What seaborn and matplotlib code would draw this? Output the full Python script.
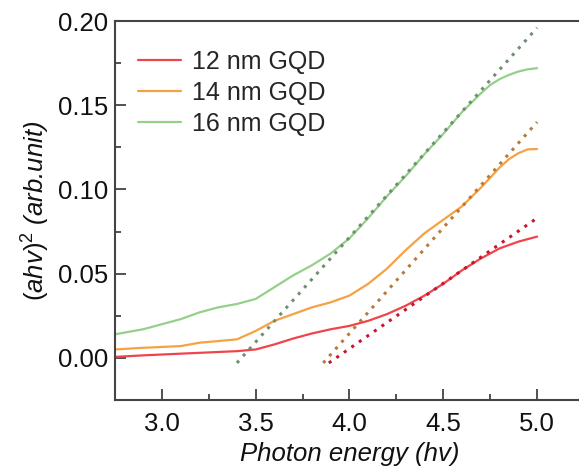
"""
Tauc plot of GQD samples: (ahv)^2 against photon energy with linear fits
"""
import pandas as pd
import seaborn as sns
import matplotlib.pyplot as plt

sns.set_style('ticks')
plt.rcParams['font.family'] = ['Liberation Sans', 'DejaVu Sans']
plt.rcParams['mathtext.fontset'] = 'custom'
plt.rcParams['mathtext.it'] = 'Liberation Sans:italic'
plt.rcParams['mathtext.rm'] = 'Liberation Sans'

# absorption curves
energy = [2.75, 2.9, 3.0, 3.1, 3.2, 3.3, 3.4, 3.5, 3.6, 3.7, 3.8, 3.9, 4.0,
          4.1, 4.2, 4.3, 4.4, 4.5, 4.6, 4.7, 4.75, 4.8, 4.85, 4.9, 4.95, 5.0]
gqd12 = [0.0006, 0.0015, 0.002, 0.0025, 0.003, 0.0035, 0.004, 0.005, 0.008,
         0.0115, 0.0145, 0.017, 0.019, 0.022, 0.026, 0.031, 0.037, 0.044,
         0.052, 0.059, 0.062, 0.065, 0.067, 0.069, 0.0705, 0.072]
gqd14 = [0.005, 0.006, 0.0065, 0.007, 0.009, 0.010, 0.011, 0.016, 0.022,
         0.026, 0.030, 0.033, 0.037, 0.044, 0.053, 0.064, 0.074, 0.082,
         0.090, 0.101, 0.107, 0.113, 0.118, 0.1215, 0.1238, 0.124]
gqd16 = [0.014, 0.017, 0.020, 0.023, 0.027, 0.030, 0.032, 0.035, 0.042,
         0.049, 0.055, 0.062, 0.071, 0.083, 0.096, 0.108, 0.121, 0.133,
         0.146, 0.157, 0.162, 0.1655, 0.168, 0.170, 0.1713, 0.172]

# linear fit segments (start / end)
fit12_x = [3.89, 5.0]
fit12_y = [-0.003, 0.083]
fit14_x = [3.86, 5.0]
fit14_y = [-0.003, 0.140]
fit16_x = [3.40, 5.0]
fit16_y = [-0.003, 0.196]

labels = ['12 nm GQD', '14 nm GQD', '16 nm GQD']
line_colors = ['#f0444c', '#f6a242', '#95d08a']
fit_colors = ['#c8142e', '#b87a3c', '#6f8f6f']

fig = plt.figure(figsize=(5.79, 4.68), dpi=100)
ax = fig.add_axes([0.1986, 0.1453, 0.81, 0.8098])

curves = [gqd12, gqd14, gqd16]
fits = [(fit12_x, fit12_y), (fit14_x, fit14_y), (fit16_x, fit16_y)]
for y, lab, c in zip(curves, labels, line_colors):
    sns.lineplot(x=energy, y=y, ax=ax, color=c, lw=1.6, label=lab)
for (fx, fy), c in zip(fits, fit_colors):
    sns.lineplot(x=fx, y=fy, ax=ax, color=c, lw=2.2, linestyle=(0, (1.0, 2.0)))

ax.set_xlim(2.75, 5.25)
ax.set_ylim(-0.025, 0.20)
ax.set_xticks([3.0, 3.5, 4.0, 4.5, 5.0])
ax.set_xticks([2.75, 3.25, 3.75, 4.25, 4.75, 5.25], minor=True)
ax.set_yticks([0.00, 0.05, 0.10, 0.15, 0.20])
ax.set_yticks([-0.025, 0.025, 0.075, 0.125, 0.175], minor=True)
ax.set_yticklabels(['0.00', '0.05', '0.10', '0.15', '0.20'])
ax.tick_params(which='major', direction='in', length=8, width=1.2,
               labelsize=18.5, color='#333333', labelcolor='#111111')
ax.tick_params(axis='x', which='major', pad=9)
ax.tick_params(axis='y', which='major', pad=5)
ax.tick_params(which='minor', direction='in', length=4, width=1.2,
               color='#333333')
for s in ax.spines.values():
    s.set_linewidth(1.5)
    s.set_color('#444444')

ax.set_xlabel('Photon energy (hv)', fontsize=18.5, style='italic',
              labelpad=4, color='#111111')
ax.set_ylabel('$(ahv)^2$ (arb.unit)', fontsize=18.5, style='italic',
              labelpad=4, color='#111111')

leg = ax.legend(loc='upper left', frameon=False, fontsize=18,
                handlelength=1.7, handletextpad=0.45, labelspacing=0.28,
                borderaxespad=0, bbox_to_anchor=(0.028, 0.95))

plt.savefig('out.png', dpi=100)
